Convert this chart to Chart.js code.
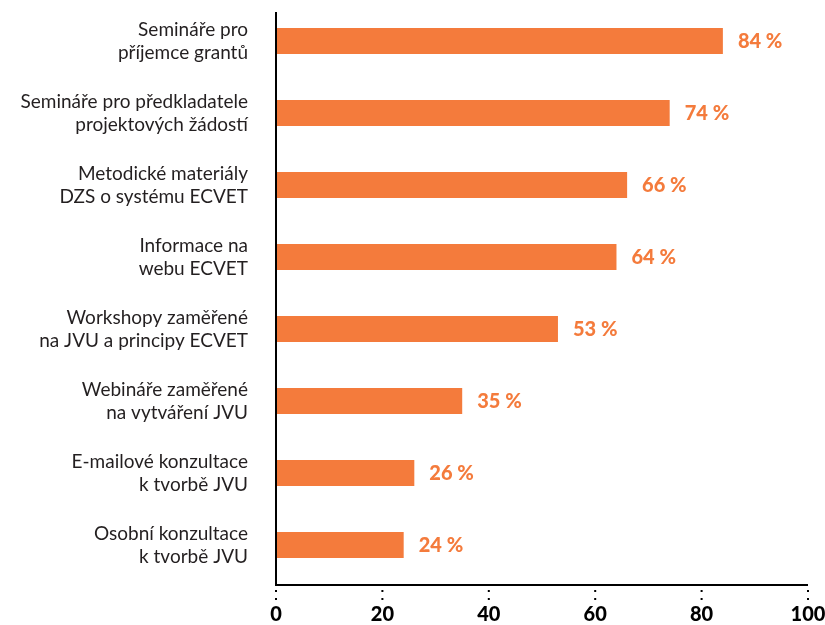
<!DOCTYPE html>
<html>
<head>
<meta charset="utf-8">
<script src="https://cdn.jsdelivr.net/npm/chart.js@4.4.0/dist/chart.umd.min.js"></script>
<style>
  html, body { margin: 0; padding: 0; background: #ffffff; }
  #wrap { width: 825px; height: 625px; position: relative; }
</style>
</head>
<body>
<div id="wrap"><canvas id="c" width="825" height="625"></canvas></div>
<script>
const categories = [
  ["Semináře pro", "příjemce grantů"],
  ["Semináře pro předkladatele", "projektových žádostí"],
  ["Metodické materiály", "DZS o systému ECVET"],
  ["Informace na", "webu ECVET"],
  ["Workshopy zaměřené", "na JVU a principy ECVET"],
  ["Webináře zaměřené", "na vytváření JVU"],
  ["E-mailové konzultace", "k tvorbě JVU"],
  ["Osobní konzultace", "k tvorbě JVU"]
];
const values = [84, 74, 66, 64, 53, 35, 26, 24];
const xTicks = [0, 20, 40, 60, 80, 100];

const ORANGE = '#F47B3C';
const TEXT = '#231F20';

const valueLabels = {
  id: 'valueLabels',
  afterDatasetsDraw(chart) {
    const ctx = chart.ctx;
    const meta = chart.getDatasetMeta(0);
    ctx.save();
    ctx.fillStyle = ORANGE;
    ctx.font = '900 20px Lato';
    ctx.textAlign = 'left';
    ctx.textBaseline = 'middle';
    meta.data.forEach((bar, i) => {
      ctx.fillText(values[i] + ' %', bar.x + 15, bar.y + 1);
    });
    ctx.restore();
  }
};

const axisLines = {
  id: 'axisLines',
  afterDraw(chart) {
    const ctx = chart.ctx;
    const area = chart.chartArea;
    const xs = chart.scales.x;
    const yBottom = area.bottom + 4;
    ctx.save();
    ctx.strokeStyle = '#000';
    ctx.lineWidth = 2;
    ctx.beginPath();
    ctx.moveTo(area.left, area.top + 7);
    ctx.lineTo(area.left, yBottom);
    ctx.lineTo(area.right, yBottom);
    ctx.stroke();
    ctx.fillStyle = '#000';
    xTicks.forEach(t => {
      const px = xs.getPixelForValue(t);
      ctx.fillRect(px - 1, yBottom + 5, 2, 2);
      ctx.fillRect(px - 1, yBottom + 13, 2, 2);
    });
    ctx.restore();
  }
};

new Chart(document.getElementById('c'), {
  type: 'bar',
  data: {
    labels: categories,
    datasets: [{
      data: values,
      backgroundColor: ORANGE,
      borderWidth: 0,
      barPercentage: 0.36,
      categoryPercentage: 1.0
    }]
  },
  options: {
    indexAxis: 'y',
    responsive: false,
    animation: false,
    layout: { padding: { left: 0, right: 17, top: 5, bottom: 0 } },
    plugins: {
      legend: { display: false },
      tooltip: { enabled: false }
    },
    scales: {
      x: {
        type: 'linear',
        min: 0,
        max: 100,
        afterBuildTicks(scale) { scale.ticks = xTicks.map(v => ({ value: v })); },
        afterFit(scale) {
          scale.height = 44;
          scale.paddingLeft = 0; scale.paddingRight = 0;
          scale.paddingTop = 0; scale.paddingBottom = 0;
        },
        grid: { display: false, drawTicks: false },
        border: { display: false },
        ticks: {
          color: '#000',
          font: { family: 'Lato', weight: '900', size: 20 },
          padding: 22,
          maxRotation: 0
        }
      },
      y: {
        afterFit(scale) {
          scale.width = 276;
          scale.paddingLeft = 0; scale.paddingRight = 0;
          scale.paddingTop = 0; scale.paddingBottom = 0;
        },
        grid: { display: false, drawTicks: false },
        border: { display: false },
        ticks: {
          color: TEXT,
          font: { family: 'Lato', weight: '400', size: 19 },
          lineHeight: 1.18,
          padding: 28,
          crossAlign: 'near'
        }
      }
    }
  },
  plugins: [valueLabels, axisLines]
});
</script>
</body>
</html>
